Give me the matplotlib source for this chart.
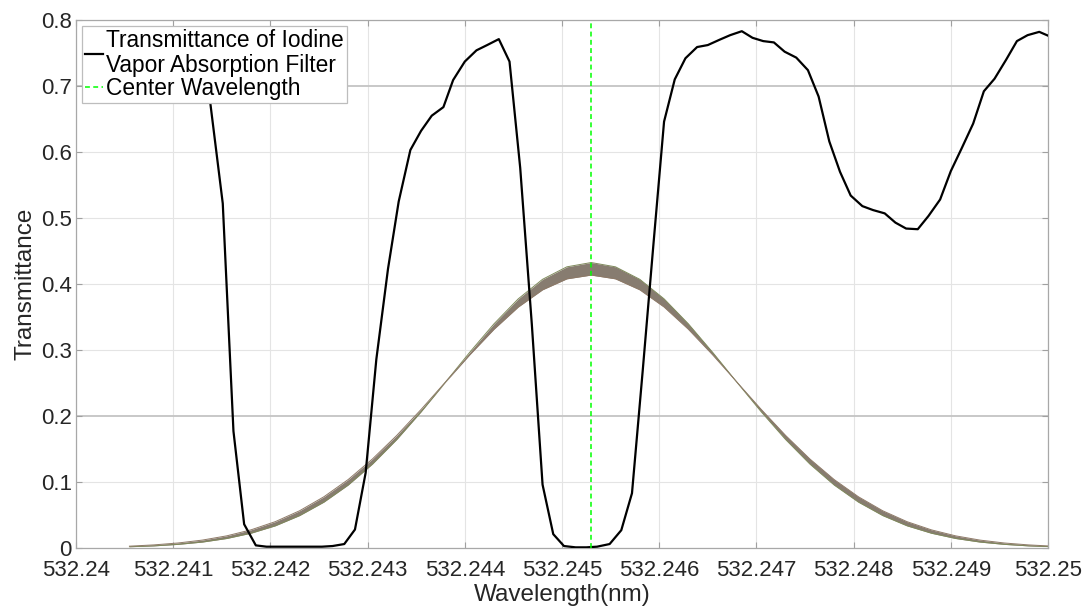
import numpy as np
import matplotlib.pyplot as plt

plt.rcParams['font.family'] = ['Liberation Sans', 'DejaVu Sans']

# iodine vapor absorption filter transmittance (read off the curve;
# the first points sit behind the legend)
iodine_wl = [532.24011, 532.24023, 532.24034, 532.24045, 532.24057,
             532.24068, 532.24079, 532.24091, 532.24102, 532.24113, 532.24125,
             532.24136, 532.24151, 532.24162, 532.24173, 532.24185, 532.24196,
             532.24207, 532.24219, 532.24230, 532.24241, 532.24253, 532.24264,
             532.24276, 532.24287, 532.24298, 532.24309, 532.24321, 532.24332,
             532.24344, 532.24355, 532.24366, 532.24378, 532.24388, 532.24400,
             532.24412, 532.24423, 532.24435, 532.24446, 532.24457, 532.24469,
             532.24480, 532.24491, 532.24502, 532.24514, 532.24525, 532.24536,
             532.24549, 532.24561, 532.24572, 532.24583, 532.24594, 532.24605,
             532.24616, 532.24627, 532.24639, 532.24650, 532.24662, 532.24673,
             532.24685, 532.24696, 532.24707, 532.24718, 532.24729, 532.24741,
             532.24753, 532.24764, 532.24775, 532.24786, 532.24797, 532.24809,
             532.24820, 532.24832, 532.24843, 532.24854, 532.24866, 532.24877,
             532.24889, 532.24900, 532.24911, 532.24923, 532.24934, 532.24945,
             532.24957, 532.24968, 532.24979, 532.24991, 532.25002]
iodine_t = [0.750, 0.760, 0.770, 0.775, 0.780,
            0.780, 0.778, 0.775, 0.772, 0.770, 0.765,
            0.700, 0.522, 0.177, 0.036, 0.004, 0.002,
            0.002, 0.002, 0.002, 0.002, 0.002, 0.003,
            0.006, 0.028, 0.114, 0.286, 0.423, 0.525,
            0.603, 0.632, 0.655, 0.668, 0.709, 0.737,
            0.754, 0.762, 0.771, 0.737, 0.576, 0.338,
            0.096, 0.021, 0.003, 0.001, 0.001, 0.002,
            0.006, 0.027, 0.083, 0.268, 0.459, 0.646,
            0.710, 0.742, 0.759, 0.762, 0.770, 0.777,
            0.783, 0.773, 0.768, 0.766, 0.752, 0.743,
            0.724, 0.684, 0.616, 0.570, 0.534, 0.518,
            0.512, 0.507, 0.493, 0.484, 0.483, 0.503,
            0.528, 0.571, 0.605, 0.643, 0.692, 0.711,
            0.740, 0.768, 0.777, 0.782, 0.775]

# laser spectrum band: offset from centre (nm), narrowest and broadest curves
center_wl = 532.2453
laser_offset = [-0.00475, -0.0045, -0.00425, -0.004, -0.00375, -0.0035, -0.00325,
                -0.003, -0.00275, -0.0025, -0.00225, -0.002, -0.00175, -0.0015,
                -0.00125, -0.001, -0.00075, -0.0005, -0.00025, 0.0,
                0.00025, 0.0005, 0.00075, 0.001, 0.00125, 0.0015, 0.00175,
                0.002, 0.00225, 0.0025, 0.00275, 0.003, 0.00325, 0.0035,
                0.00375, 0.004, 0.00425, 0.0045, 0.00475]
laser_narrow = [0.0019, 0.0032, 0.0055, 0.0090, 0.0144, 0.0224, 0.0336, 0.0491,
                0.0695, 0.0954, 0.1272, 0.1644, 0.2063, 0.2510, 0.2964, 0.3396,
                0.3775, 0.4071, 0.4260, 0.4325, 0.4260, 0.4071, 0.3775, 0.3396,
                0.2964, 0.2510, 0.2063, 0.1644, 0.1272, 0.0954, 0.0695, 0.0491,
                0.0336, 0.0224, 0.0144, 0.0090, 0.0055, 0.0032, 0.0019]
laser_broad = [0.0028, 0.0047, 0.0076, 0.0120, 0.0184, 0.0275, 0.0399, 0.0564,
               0.0776, 0.1037, 0.1349, 0.1706, 0.2099, 0.2513, 0.2926, 0.3314,
               0.3651, 0.3912, 0.4078, 0.4135, 0.4078, 0.3912, 0.3651, 0.3314,
               0.2926, 0.2513, 0.2099, 0.1706, 0.1349, 0.1037, 0.0776, 0.0564,
               0.0399, 0.0275, 0.0184, 0.0120, 0.0076, 0.0047, 0.0028]

xticks = [532.24, 532.241, 532.242, 532.243, 532.244, 532.245,
          532.246, 532.247, 532.248, 532.249, 532.25]
xtick_labels = ['532.24', '532.241', '532.242', '532.243', '532.244', '532.245',
                '532.246', '532.247', '532.248', '532.249', '532.25']
yticks = [0, 0.1, 0.2, 0.3, 0.4, 0.5, 0.6, 0.7, 0.8]
ytick_labels = ['0', '0.1', '0.2', '0.3', '0.4', '0.5', '0.6', '0.7', '0.8']

fig = plt.figure(figsize=(10.84, 6.11), dpi=100)
ax = fig.add_axes([0.0701, 0.1031, 0.8967, 0.8642])

laser_wl = center_wl + np.array(laser_offset)
lo = np.minimum(laser_narrow, laser_broad)
hi = np.maximum(laser_narrow, laser_broad)
ax.fill_between(laser_wl, lo, hi, color='#877c70', lw=0, zorder=2)
ax.plot(laser_wl, laser_narrow, color='#7f8a5c', lw=0.7, zorder=2)
ax.plot(laser_wl, laser_broad, color='#8e7a68', lw=0.7, zorder=2)

ax.plot(iodine_wl, iodine_t, color='black', lw=1.6, zorder=3,
        label='Transmittance of Iodine\nVapor Absorption Filter')
ax.axvline(center_wl, color='#00ff00', lw=1.1, ls=(0, (3.2, 2.2)), zorder=4,
           label='Center Wavelength')

ax.set_xlim(532.24, 532.25)
ax.set_ylim(0, 0.8)
ax.set_xticks(xticks)
ax.set_xticklabels(xtick_labels)
ax.set_yticks(yticks)
ax.set_yticklabels(ytick_labels)
ax.tick_params(direction='in', length=4, width=0.8, color='#a0a0a0',
               labelsize=16, labelcolor='#262626', top=True, right=True)
ax.tick_params(axis='x', pad=8.5)
ax.tick_params(axis='y', pad=3)

ax.grid(True, color='#e4e4e4', lw=0.8, zorder=0)
for i, g in enumerate(ax.get_ygridlines()):
    if ytick_labels[i] in ('0.2', '0.7'):
        g.set_color('#c4c4c4')
        g.set_linewidth(1.3)
ax.set_axisbelow(True)
for s in ax.spines.values():
    s.set_color('#a8a8a8')
    s.set_linewidth(0.9)

ax.set_xlabel('Wavelength(nm)', fontsize=17.5, color='#262626', labelpad=2)
ax.set_ylabel('Transmittance', fontsize=17.5, color='#262626', labelpad=3)

leg = ax.legend(loc='upper left', bbox_to_anchor=(0.006, 0.989), borderaxespad=0,
                fontsize=16.4, frameon=True, fancybox=False, framealpha=1,
                edgecolor='#bdbdbd', handlelength=0.8, handletextpad=0.1,
                borderpad=0.15, labelspacing=0.0)
leg.get_frame().set_linewidth(0.9)
for t in leg.get_texts():
    t.set_linespacing(1.1)

fig.savefig('out.png', dpi=100, facecolor='white')
